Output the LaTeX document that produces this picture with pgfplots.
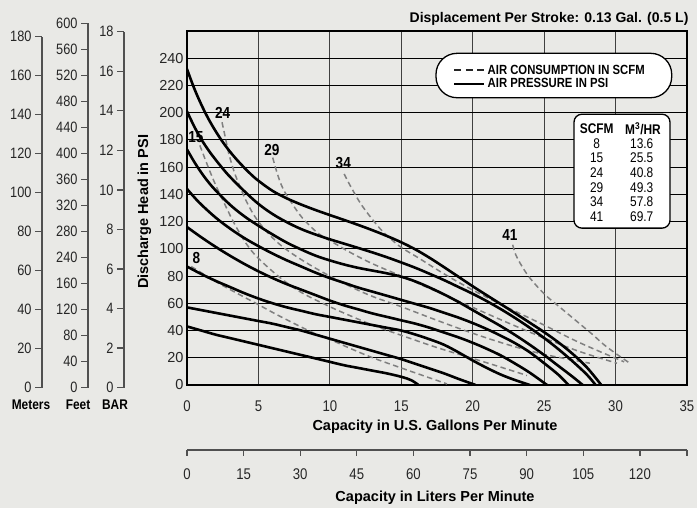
\documentclass[border=0pt]{standalone}
\usepackage{fontspec}
\setmainfont{Liberation Sans}
\newfontfamily\narrow{Liberation Sans}[FakeStretch=0.85]
\usepackage{pgfplots}
\pgfplotsset{compat=1.18}

\definecolor{bg}{RGB}{233,233,230}
\definecolor{dg}{RGB}{128,128,128}
\definecolor{axg}{RGB}{80,80,80}

\tikzset{
  solidc/.style={black, line width=2.6pt, smooth, tension=0.6},
  dashc/.style={dg, line width=1.5pt, dash pattern=on 5.5pt off 3.5pt, smooth, tension=0.6},
}

\pgfplotsset{
  sideaxis/.style={
    scale only axis, width=1pt, anchor=south west,
    xmin=0, xmax=1, ymin=0,
    axis x line=none, axis y line=left,
    axis line style={-, line width=1.3pt, axg},
    tick align=outside, major tick length=7pt,
    tick style={line width=1.3pt, axg},
    /pgf/number format/assume math mode=true,
    yticklabel style={font=\narrow\fontsize{15}{15}\selectfont, text=black!85},
    clip=false,
  }
}

\begin{document}
\begin{tikzpicture}
\useasboundingbox (0pt,0pt) rectangle (697pt,508pt);
\fill[bg] (0pt,0pt) rectangle (697pt,508pt);

% Meters
\begin{axis}[sideaxis, at={(42pt,120.3pt)}, height=351pt, ymax=180, ytick={0,20,...,180}]
\end{axis}
% Feet
\begin{axis}[sideaxis, at={(88pt,120.3pt)}, height=364.4pt, ymax=14, ytick={0,1,...,14},
  yticklabels={0,40,80,120,160,240,280,320,360,400,440,480,520,560,600}]
\end{axis}
% BAR
\begin{axis}[sideaxis, at={(124pt,120.3pt)}, height=356pt, ymax=18, ytick={0,2,...,18}]
\end{axis}

% Liters axis
\begin{axis}[at={(187pt,58pt)}, anchor=south west, scale only axis, width=500pt, height=1pt,
  xmin=0, xmax=132.49, ymin=0, ymax=1,
  axis y line=none, axis x line=bottom,
  axis line style={-, line width=1.3pt, axg},
  xtick={0,15,...,120}, extra x ticks={132.49}, extra x tick labels={},
  tick align=outside, major tick length=6pt,
  tick style={line width=1.3pt, axg},
  /pgf/number format/assume math mode=true,
  xticklabel style={font=\narrow\fontsize{15.5}{15.5}\selectfont, text=black!85, anchor=base, yshift=-24pt},
  clip=false]
\end{axis}

% Main chart
\begin{axis}[at={(187pt,123pt)}, anchor=south west, scale only axis, width=500pt, height=354pt,
  xmin=0, xmax=35, ymin=0, ymax=260,
  xtick={0,5,...,35}, ytick={0,20,...,240},
  grid=major,
  major x grid style={black!75, line width=1.1pt},
  major y grid style={black, line width=1.1pt},
  axis line style={black, line width=2pt},
  major tick length=0pt,
  /pgf/number format/assume math mode=true,
  xticklabel style={font=\narrow\fontsize{15.5}{15.5}\selectfont, text=black!85, anchor=base, yshift=-26.7pt},
  yticklabel style={font=\fontsize{14.5}{14.5}\selectfont, text=black!85},
  legend style={at={(axis cs:18.6,226.2)}, anchor=west, draw=none, fill=none, inner sep=0pt,
    font=\narrow\bfseries\fontsize{13.3}{14}\selectfont, row sep=-1pt},
  legend cell align=left,
  legend image code/.code={\draw[#1] (0pt,0pt) -- (30pt,0pt);},
  clip=true]

\addlegendimage{black!85, line width=1.7pt, dash pattern=on 7pt off 4.5pt}
\addlegendentry{AIR CONSUMPTION IN SCFM}
\addlegendimage{black, line width=2.8pt}
\addlegendentry{AIR PRESSURE IN PSI}

% legend frame and table
\draw[black, line width=1.3pt, fill=white, rounded corners=21pt] (axis cs:17.43,243.6) rectangle (axis cs:33.93,211.0);
\draw[black, line width=1.3pt, fill=white, rounded corners=8pt] (axis cs:27.09,198.9) rectangle (axis cs:33.81,115.2);
\node[font=\narrow\bfseries\fontsize{14}{14}\selectfont] at (axis cs:28.68,188.5) {SCFM};
\node[font=\narrow\bfseries\fontsize{14}{14}\selectfont] at (axis cs:31.92,188.5) {M\textsuperscript{3}/HR};
\begin{scope}[every node/.style={font=\narrow\fontsize{14}{14}\selectfont}]
\node at (axis cs:28.68,177.5) {8};   \node at (axis cs:31.83,177.5) {13.6};
\node at (axis cs:28.68,166.7) {15};  \node at (axis cs:31.83,166.7) {25.5};
\node at (axis cs:28.68,155.9) {24};  \node at (axis cs:31.83,155.9) {40.8};
\node at (axis cs:28.68,145.1) {29};  \node at (axis cs:31.83,145.1) {49.3};
\node at (axis cs:28.68,134.3) {34};  \node at (axis cs:31.83,134.3) {57.8};
\node at (axis cs:28.68,123.6) {41};  \node at (axis cs:31.83,123.6) {69.7};
\end{scope}

% SCFM labels
\begin{scope}[every node/.style={font=\narrow\bfseries\fontsize{16}{16}\selectfont}]
\node at (axis cs:2.50,199.6) {24};
\node at (axis cs:0.62,182.3) {15};
\node at (axis cs:5.94,172.5) {29};
\node at (axis cs:10.94,162.7) {34};
\node at (axis cs:22.6,110.1) {41};
\node at (axis cs:0.66,93.0) {8};
\end{scope}

% air consumption (dashed)
\addplot[dashc] coordinates {(0.3,87) (1,82.5) (2,76) (3.3,68.5) (5,59) (6.5,50.5) (8.7,39) (10,33.5) (11.4,27) (13,20) (15,12.5) (16.5,7) (18.2,0.8)};
\addplot[dashc] coordinates {(0.9,176) (1.3,165) (1.6,157) (2,147) (2.45,137) (3,125) (3.5,115) (4.2,103) (5,93) (6.5,79) (8,68) (10,57.5) (11.4,51) (13,44) (15,36.5) (17.5,27.5) (20,19.5) (22,13) (23.8,7)};
\addplot[dashc] coordinates {(2.45,193) (2.7,181) (2.9,171) (3.2,160) (3.5,151) (4.2,134) (5,120) (6.2,106) (7.5,95.5) (9.3,84) (11.4,72.5) (13,65) (15,57.5) (17.5,47.5) (20,38) (22.5,29.5) (25,22.5) (28.2,16)};
\addplot[dashc] coordinates {(6.0,167) (6.3,156) (6.6,147) (7,139) (7.9,125) (8.6,117) (9.3,110.5) (10.5,103) (11.4,97.5) (13,89) (15,80) (17.5,68.5) (20,57) (22.5,45.5) (25,34.5) (27.5,24.5) (30.1,16)};
\addplot[dashc] coordinates {(11.0,155) (11.5,145) (12.3,131) (13.5,115) (14.3,107) (15,101) (16.1,94) (17.7,83.5) (19,75.5) (20.5,67) (22.5,56.5) (25,44) (27.5,31) (30.6,17)};
\addplot[dashc] coordinates {(22.8,103) (23.0,96) (23.4,88) (23.9,80) (24.5,72.5) (25.2,65) (26,58) (26.8,51) (27.6,44) (28.4,37) (29.2,29.5) (30.1,22.5) (31,16)};

% air pressure (solid)
\addplot[solidc] coordinates {(0,232) (0.5,218) (1,206) (1.5,195.5) (2,186.5) (2.5,178.5) (3,171.5) (3.5,165.3) (4,159.7) (4.5,154.5) (5,150) (6,142.5) (7,137) (8,132.5) (9,128.5) (10,124.8) (11,121.2) (12,117.5) (13,113.6) (14,109.4) (15,104.8) (16,99.5) (17,93.3) (18,86.5) (19,79.5) (20,72.5) (21,65.8) (22,59.2) (23,52.5) (24,45.7) (25,38.8) (26,31.3) (27,22.8) (28,12.8) (29,0)};
\addplot[solidc] coordinates {(0,201) (0.5,190) (1,180.5) (1.5,172.5) (2,165.5) (2.5,159) (3,153) (4,142.5) (5,133) (6,125.5) (7,119.5) (8,114.5) (9,110.5) (10,107) (11,103.8) (12,100.6) (13,97.3) (14,93.8) (15,90) (16,86) (17,81.6) (18,77) (19,72) (20,67) (21,61.5) (22,55.5) (23,49) (24,42) (25,34.5) (26,26.3) (27,17.3) (28,7.5) (28.6,0)};
\addplot[solidc] coordinates {(0,173) (0.5,164) (1,156) (1.5,149) (2,143) (3,132.5) (4,124) (5,117) (6,110.5) (7,104.5) (8,99.5) (9,95) (10,91.5) (11,88.5) (12,86) (13,84) (14,82) (15,79.5) (16,76) (17,71.5) (18,66.5) (19,61) (20,55) (21,49) (22,43) (23,36.5) (24,29.5) (25,22) (26,14) (27,6) (27.7,0)};
\addplot[solidc] coordinates {(0,144) (0.5,138) (1,132.5) (2,123) (3,115) (4,108) (5,102) (6,96.5) (7,91.5) (8,87) (9,82.5) (10,78.5) (11,75) (12,71.5) (13,68.5) (14,65.5) (15,62.5) (16,59.5) (17,56.5) (18,53) (19,49.5) (20,45.5) (21,41) (22,36) (23,30.5) (24,24) (25,16) (26,7.5) (26.7,0)};
\addplot[solidc] coordinates {(0,116) (1,108.5) (2,101.5) (3,95) (4,89) (5,83.5) (6,78.5) (7,74) (8,70) (9,66) (10,62) (11,58.5) (12,55.5) (13,52.5) (14,50) (15,47.5) (16,45) (17,42) (18,38.5) (19,35) (20,31) (21,26.5) (22,21.5) (23,15.5) (24,9) (25.2,0)};
\addplot[solidc] coordinates {(0,87) (1,81.5) (2,76.5) (3,72) (4,67.5) (5,63.5) (6,60) (7,57) (8,54.5) (9,52) (10,50) (11,48) (12,46) (13,44) (14,42) (15,40) (16,37) (17,33.5) (18,29.5) (19,24) (20,18) (21,12.5) (22,7.5) (23,3.5) (24,0)};
\addplot[solidc] coordinates {(0,57) (1,55) (2,53) (3,51) (4,49) (5,47) (6,45) (7,42.5) (8,40) (9,37) (10,34) (11,31) (12,28) (13,25) (14,22) (15,19) (16,15.5) (17,12) (18,8.5) (19,4.5) (20.2,0)};
\addplot[solidc] coordinates {(0,43) (1,40) (2,37) (3,34.5) (4,32) (5,29.5) (6,27) (7,24.5) (8,22) (9,19.5) (10,17) (11,14.5) (12,12.5) (13,10.5) (14,8.5) (15,6) (15.7,3.5) (16.2,0)};
\end{axis}

% texts
\node[anchor=base east, font=\bfseries\fontsize{14}{14}\selectfont] at (692pt,485.7pt) {Displacement Per Stroke: 0.13 Gal. (0.5 L)};
\node[rotate=90, font=\bfseries\fontsize{14.5}{14.5}\selectfont] at (144.5pt,296.3pt) {Discharge Head in PSI};
\node[anchor=base, font=\bfseries\fontsize{14.5}{14.5}\selectfont] at (435pt,77.3pt) {Capacity in U.S. Gallons Per Minute};
\node[anchor=base, font=\bfseries\fontsize{14.5}{14.5}\selectfont] at (435pt,6.3pt) {Capacity in Liters Per Minute};
\node[anchor=base, font=\narrow\bfseries\fontsize{14}{14}\selectfont] at (31pt,98pt) {Meters};
\node[anchor=base, font=\narrow\bfseries\fontsize{14}{14}\selectfont] at (78pt,98pt) {Feet};
\node[anchor=base, font=\narrow\bfseries\fontsize{14}{14}\selectfont] at (115pt,98pt) {BAR};
\end{tikzpicture}
\end{document}
